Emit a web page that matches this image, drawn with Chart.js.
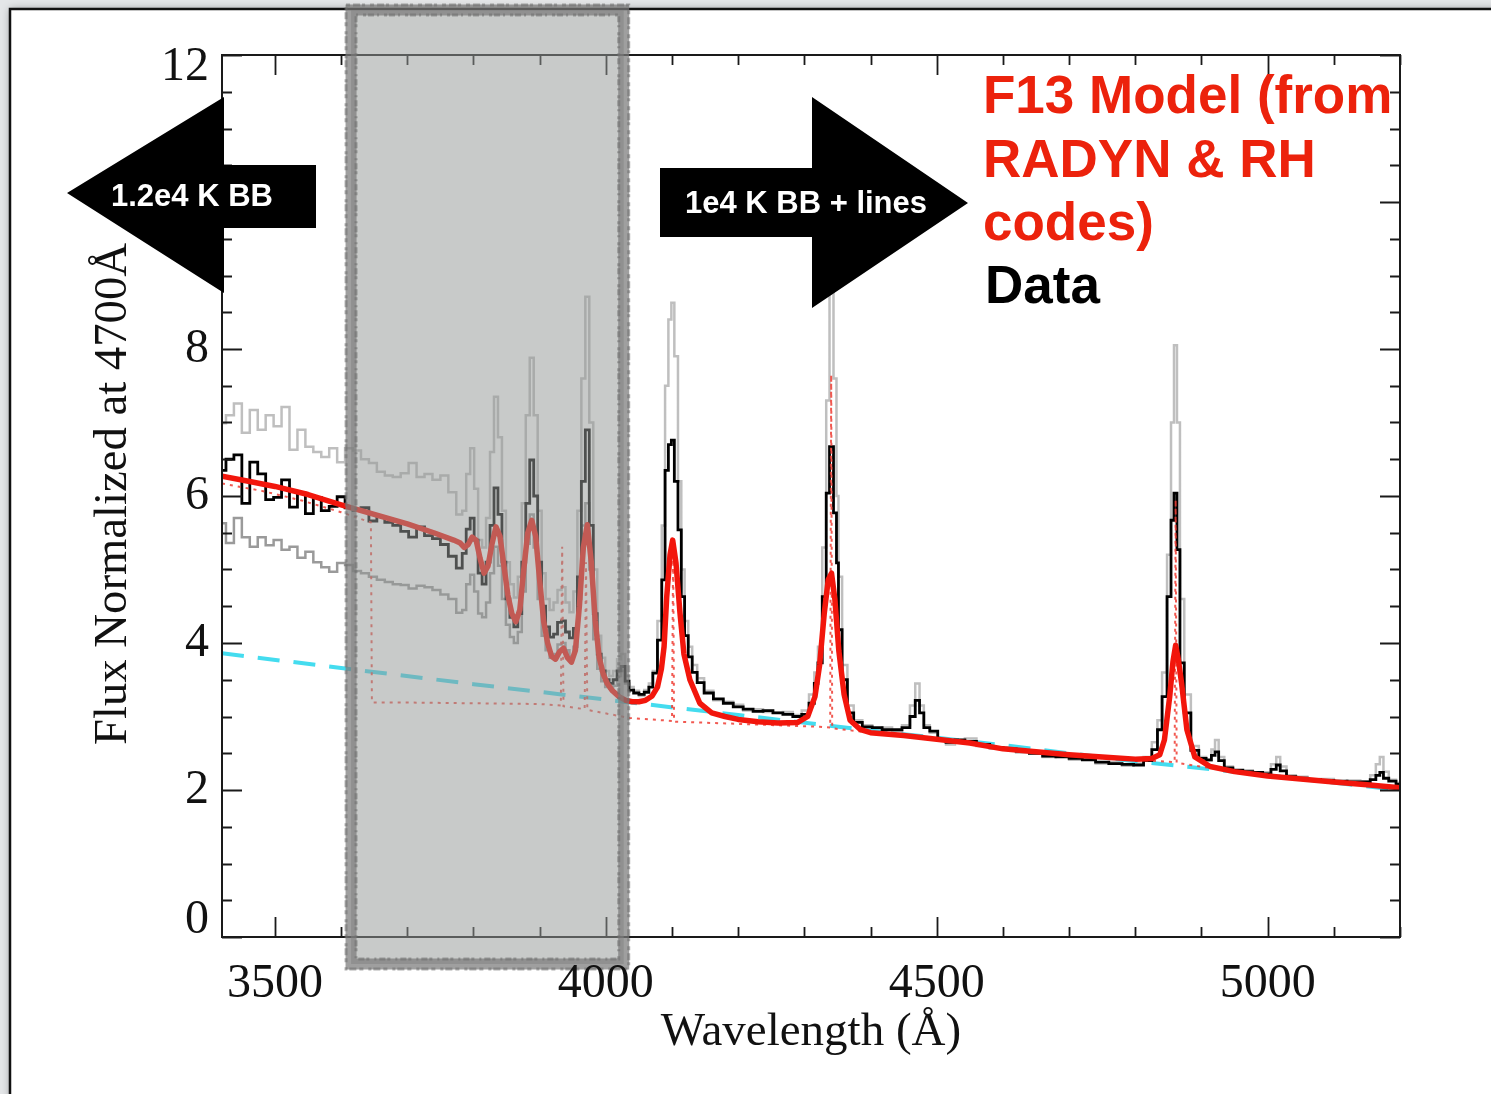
<!DOCTYPE html>
<html>
<head>
<meta charset="utf-8">
<title>F13 model vs flare spectrum</title>
<script src="https://cdn.jsdelivr.net/npm/chart.js@4.4.1/dist/chart.umd.min.js"></script>
<style>
  html, body { margin: 0; padding: 0; background: #e4e6e8; }
  #wrap { width: 1491px; height: 1094px; }
</style>
</head>
<body>
<div id="wrap"><canvas id="spectrumChart" width="1491" height="1094"></canvas></div>
<script>
// observed spectrum (black) and the brighter spectrum (light gray), same bins
const waveData = [
  3420, 3432, 3444, 3456, 3468, 3480, 3492, 3504, 3516, 3528, 3540, 3552, 3564, 3576, 3588, 3600,
  3612, 3624, 3636, 3648, 3660, 3672, 3684, 3696, 3708, 3720, 3732, 3744, 3756, 3768, 3780,
  3786, 3792, 3798, 3804, 3810, 3816, 3822, 3828, 3834, 3840, 3846, 3852, 3858, 3864, 3870, 3876,
  3882, 3888, 3894, 3900, 3906, 3912, 3918, 3924, 3930, 3936, 3942, 3948, 3954, 3960, 3966, 3972,
  3978, 3984, 3990, 3996, 4002, 4008, 4014, 4020, 4026, 4032, 4038, 4046, 4054, 4062, 4068, 4074,
  4082, 4087, 4092, 4097, 4101, 4106, 4112, 4116, 4122, 4127, 4134, 4142, 4155, 4170, 4185, 4200,
  4215, 4230, 4245, 4260, 4275, 4290, 4302, 4312, 4318, 4323, 4331, 4335, 4341, 4347, 4350, 4353,
  4361, 4369, 4380, 4395, 4410, 4425, 4440, 4455, 4464, 4471, 4477, 4484, 4495, 4508, 4520, 4535,
  4550, 4570, 4590, 4610, 4630, 4650, 4670, 4690, 4710, 4730, 4750, 4770, 4790, 4805, 4820, 4830,
  4837, 4844, 4852, 4856, 4861, 4865, 4870, 4878, 4890, 4902, 4912, 4918, 4923, 4929, 4940, 4955,
  4970, 4985, 5000, 5010, 5016, 5022, 5035, 5050, 5070, 5090, 5110, 5130, 5150, 5160, 5167, 5172,
  5178, 5188, 5200
];
const fluxData = [
  6.35, 6.50, 6.56, 5.90, 6.46, 6.30, 5.95, 5.98, 6.22, 5.85, 6.04, 5.76, 5.98, 5.80, 5.86, 5.99,
  5.84, 5.80, 5.84, 5.66, 5.72, 5.64, 5.60, 5.52, 5.44, 5.58, 5.46, 5.42, 5.34, 5.18, 5.02,
  5.22, 5.55, 5.70, 5.40, 4.95, 4.80, 5.10, 5.60, 6.11, 5.75, 5.10, 4.60, 4.35, 4.22, 4.40, 5.10,
  5.90, 6.49, 6.00, 5.10, 4.50, 4.22, 4.08, 4.12, 4.28, 4.30, 4.15, 4.07, 4.20, 4.90, 6.20, 6.90,
  5.60, 4.40, 3.85, 3.62, 3.50, 3.45, 3.50, 3.62, 3.68, 3.48, 3.36, 3.32, 3.30, 3.33, 3.40, 3.59,
  4.04, 4.86, 6.35, 6.70, 6.76, 6.20, 5.54, 4.63, 4.10, 3.81, 3.60, 3.46, 3.32, 3.24, 3.18, 3.13,
  3.10, 3.07, 3.08, 3.05, 3.03, 3.00, 3.03, 3.18, 3.45, 3.73, 4.63, 6.04, 6.67, 5.77, 5.09, 4.18,
  3.50, 3.05, 2.92, 2.86, 2.85, 2.82, 2.82, 2.85, 3.00, 3.22, 3.05, 2.85, 2.80, 2.68, 2.65, 2.68,
  2.66, 2.62, 2.58, 2.56, 2.53, 2.50, 2.46, 2.45, 2.43, 2.41, 2.38, 2.36, 2.35, 2.34, 2.40, 2.55,
  2.82, 3.27, 4.63, 5.67, 6.04, 5.27, 3.73, 3.05, 2.54, 2.43, 2.41, 2.47, 2.52, 2.40, 2.30, 2.27,
  2.25, 2.24, 2.22, 2.28, 2.34, 2.26, 2.18, 2.16, 2.14, 2.13, 2.12, 2.11, 2.11, 2.14, 2.20, 2.24,
  2.16, 2.12, 2.08
];
const fluxUpper = [
  6.99, 7.10, 7.26, 6.86, 7.17, 6.90, 7.10, 6.95, 7.21, 6.63, 6.90, 6.67, 6.60, 6.53, 6.65, 6.46,
  6.65, 6.62, 6.50, 6.45, 6.33, 6.28, 6.26, 6.31, 6.45, 6.26, 6.30, 6.22, 6.28, 6.05, 5.75,
  5.80, 6.30, 6.65, 6.10, 5.40, 5.30, 5.70, 6.60, 7.35, 6.80, 5.80, 5.10, 4.80, 4.62, 4.90, 5.90,
  7.10, 7.88, 7.10, 5.80, 4.95, 4.60, 4.45, 4.55, 4.72, 4.76, 4.55, 4.42, 4.70, 5.80, 7.60, 8.71,
  7.00, 5.00, 4.10, 3.80, 3.62, 3.55, 3.62, 3.78, 3.85, 3.55, 3.40, 3.35, 3.28, 3.36, 3.45, 3.62,
  4.30, 5.60, 7.50, 8.40, 8.63, 7.90, 6.20, 5.00, 4.30, 3.95, 3.70, 3.52, 3.35, 3.22, 3.20, 3.16,
  3.08, 3.10, 3.06, 3.05, 3.06, 3.02, 3.08, 3.30, 3.60, 3.95, 5.30, 7.30, 8.90, 7.60, 6.00, 4.90,
  3.70, 3.15, 2.95, 2.88, 2.83, 2.85, 2.80, 2.88, 3.15, 3.45, 3.15, 2.88, 2.78, 2.70, 2.62, 2.66,
  2.70, 2.60, 2.56, 2.58, 2.51, 2.52, 2.45, 2.47, 2.41, 2.43, 2.36, 2.38, 2.33, 2.36, 2.45, 2.65,
  2.95, 3.60, 5.20, 7.00, 8.05, 7.00, 4.60, 3.30, 2.60, 2.45, 2.40, 2.55, 2.68, 2.45, 2.32, 2.25,
  2.27, 2.22, 2.24, 2.35, 2.45, 2.32, 2.20, 2.18, 2.13, 2.15, 2.11, 2.13, 2.12, 2.20, 2.35, 2.45,
  2.25, 2.14, 2.10
];

// fainter spectrum (dark gray), blue part only
const waveLower = [
  3420, 3432, 3444, 3456, 3468, 3480, 3492, 3504, 3516, 3528, 3540, 3552, 3564, 3576, 3588, 3600,
  3612, 3624, 3636, 3648, 3660, 3672, 3684, 3696, 3708, 3720, 3732, 3744, 3756, 3768, 3780,
  3786, 3792, 3798, 3804, 3810, 3816, 3822, 3828, 3834, 3840, 3846, 3852, 3858, 3864, 3870, 3876,
  3882, 3888, 3894, 3900, 3906, 3912, 3918, 3924, 3930, 3936, 3942, 3948, 3954, 3960, 3966, 3972,
  3978, 3984, 3990, 3996, 4002, 4008, 4014, 4020, 4026, 4032, 4038
];
const fluxLower = [
  5.63, 5.36, 5.70, 5.44, 5.31, 5.44, 5.33, 5.40, 5.27, 5.31, 5.16, 5.24, 5.10, 5.03, 4.97, 5.09,
  5.06, 4.98, 4.95, 4.90, 4.86, 4.83, 4.80, 4.79, 4.74, 4.78, 4.76, 4.72, 4.66, 4.60, 4.41,
  4.45, 4.80, 4.93, 4.70, 4.40, 4.35, 4.55, 4.95, 5.31, 5.05, 4.60, 4.25, 4.08, 4.00, 4.15, 4.70,
  5.35, 5.75, 5.30, 4.60, 4.10, 3.90, 3.80, 3.85, 3.98, 4.00, 3.90, 3.82, 3.95, 4.60, 5.60, 5.90,
  5.00, 4.05, 3.65, 3.48, 3.40, 3.38, 3.42, 3.55, 3.62, 3.45, 3.34
];

// F13 model (thick red)
const waveModel = [
  3420, 3460, 3500, 3550, 3600, 3650, 3700, 3740, 3770, 3780, 3786, 3792, 3798, 3804, 3810, 3816,
  3822, 3828, 3834, 3840, 3846, 3852, 3858, 3864, 3870, 3876, 3882, 3888, 3894, 3900, 3906, 3912,
  3918, 3924, 3930, 3936, 3942, 3948, 3954, 3960, 3966, 3972, 3978, 3984, 3990, 3996, 4002, 4010,
  4020, 4030, 4040, 4050, 4060, 4070, 4078, 4084, 4088, 4092, 4097, 4101, 4106, 4112, 4118, 4127,
  4142, 4160, 4180, 4200, 4230, 4260, 4290, 4305, 4316, 4323, 4330, 4336, 4341, 4346, 4352, 4360,
  4369, 4385, 4400, 4450, 4500, 4550, 4600, 4650, 4700, 4750, 4800, 4825, 4837, 4844, 4852, 4857,
  4861, 4865, 4870, 4878, 4890, 4913, 4950, 5000, 5050, 5100, 5150, 5200
];
const fluxModel = [
  6.27, 6.20, 6.13, 6.02, 5.88, 5.75, 5.62, 5.50, 5.40, 5.36, 5.30, 5.34, 5.44, 5.40, 5.15, 4.95,
  5.05, 5.35, 5.58, 5.45, 5.05, 4.65, 4.40, 4.29, 4.45, 5.00, 5.50, 5.67, 5.45, 4.85, 4.30, 4.00,
  3.82, 3.78, 3.88, 3.93, 3.80, 3.74, 3.90, 4.50, 5.30, 5.61, 5.10, 4.30, 3.80, 3.58, 3.45, 3.35,
  3.27, 3.22, 3.20, 3.20, 3.22, 3.28, 3.40, 3.65, 3.95, 4.63, 5.20, 5.40, 5.09, 4.41, 3.85, 3.50,
  3.18, 3.05, 3.00, 2.96, 2.93, 2.91, 2.92, 3.00, 3.27, 3.70, 4.40, 4.86, 4.95, 4.60, 3.90, 3.30,
  2.95, 2.82, 2.78, 2.74, 2.69, 2.64, 2.56, 2.52, 2.48, 2.45, 2.42, 2.43, 2.48, 2.68, 3.27, 3.75,
  3.97, 3.78, 3.45, 2.82, 2.45, 2.32, 2.25, 2.19, 2.15, 2.11, 2.07, 2.03
];

// model component without Balmer continuum redward of 3646 (red dotted)
const waveDotted = [
  3420, 3480, 3540, 3600, 3645, 3646.5, 3700, 3800, 3900, 3932, 3934, 3936, 3968, 3970, 3972, 4036,
  4100, 4101.7, 4103, 4200, 4323, 4339, 4340.5, 4342, 4400, 4500, 4600, 4700, 4800, 4859.5, 4861,
  4862.5, 5000, 5100, 5200
];
const fluxDotted = [
  6.17, 6.07, 5.94, 5.78, 5.64, 3.19, 3.19, 3.18, 3.17, 3.15, 5.31, 3.14, 3.10, 5.10, 3.09, 2.98,
  2.94, 5.30, 2.93, 2.90, 2.86, 2.85, 7.65, 2.84, 2.78, 2.68, 2.57, 2.48, 2.41, 2.38, 5.95,
  2.37, 2.18, 2.10, 2.02
];

// 1e4 K blackbody (cyan dashed)
const waveBB = [3420, 3600, 3800, 4000, 4200, 4400, 4600, 4800, 5000, 5200];
const fluxBB = [3.86, 3.66, 3.44, 3.23, 3.02, 2.81, 2.61, 2.39, 2.20, 2.00];

const xTickLabels = [3500, 4000, 4500, 5000];
const yTickLabels = [0, 2, 4, 6, 8, 10, 12];
const shadedBand = [3615, 4027];

const serif = "'Liberation Serif', 'Times New Roman', Times, serif";
const sans = "'Liberation Sans', Arial, Helvetica, sans-serif";

function pairs(xs, ys) {
  return xs.map((w, i) => ({ x: w, y: ys[i] }));
}

const decorPlugin = {
  id: "decor",
  beforeDraw(chart) {
    const ctx = chart.ctx;
    ctx.save();
    ctx.fillStyle = "#e4e6e8";
    ctx.fillRect(0, 0, chart.width, chart.height);
    ctx.shadowColor = "rgba(0,0,0,0.35)";
    ctx.shadowBlur = 8;
    ctx.fillStyle = "#ffffff";
    ctx.fillRect(10, 9, chart.width, chart.height);
    ctx.shadowBlur = 0;
    ctx.strokeStyle = "#111";
    ctx.lineWidth = 2.5;
    ctx.beginPath();
    ctx.moveTo(10, chart.height);
    ctx.lineTo(10, 9);
    ctx.lineTo(chart.width, 9);
    ctx.stroke();
    ctx.restore();
  },
  afterDatasetsDraw(chart) {
    const ctx = chart.ctx;
    const a = chart.chartArea;
    const x = chart.scales.x, y = chart.scales.y;

    // frame and inward ticks on all four sides
    ctx.save();
    ctx.strokeStyle = "#1a1a1a";
    ctx.lineWidth = 2;
    ctx.strokeRect(a.left, a.top, a.right - a.left, a.bottom - a.top);
    ctx.lineWidth = 1.8;
    ctx.beginPath();
    for (let w = 3500; w <= x.max; w += 100) {
      const px = Math.round(x.getPixelForValue(w)) + 0.5;
      const len = w % 500 === 0 ? 20 : 10;
      ctx.moveTo(px, a.bottom); ctx.lineTo(px, a.bottom - len);
      ctx.moveTo(px, a.top); ctx.lineTo(px, a.top + len);
    }
    for (let v = y.min; v <= y.max; v += 0.5) {
      const py = Math.round(y.getPixelForValue(v)) + 0.5;
      const len = v % 2 === 0 ? 20 : 10;
      ctx.moveTo(a.left, py); ctx.lineTo(a.left + len, py);
      ctx.moveTo(a.right, py); ctx.lineTo(a.right - len, py);
    }
    ctx.stroke();

    // shaded wavelength band
    const x0 = x.getPixelForValue(shadedBand[0]);
    const x1 = x.getPixelForValue(shadedBand[1]);
    const top = a.top - 45, bottom = a.bottom + 27;
    ctx.fillStyle = "rgba(150,153,152,0.52)";
    ctx.fillRect(x0, top, x1 - x0, bottom - top);
    ctx.strokeStyle = "rgba(122,122,122,0.72)";
    ctx.lineWidth = 11;
    ctx.strokeRect(x0, top, x1 - x0, bottom - top);
    ctx.strokeStyle = "rgba(110,110,110,0.55)";
    ctx.lineWidth = 3;
    ctx.setLineDash([4, 3, 7, 2, 3, 5]);
    ctx.strokeRect(x0 - 5, top - 5, x1 - x0 + 10, bottom - top + 10);
    ctx.setLineDash([2, 5, 3, 2, 6, 3]);
    ctx.strokeRect(x0 + 5, top + 5, x1 - x0 - 10, bottom - top - 10);
    ctx.setLineDash([]);

    // tick labels
    ctx.fillStyle = "#111";
    ctx.font = "48px " + serif;
    ctx.textAlign = "center";
    ctx.textBaseline = "alphabetic";
    xTickLabels.forEach(w => {
      ctx.fillText(String(w), x.getPixelForValue(w), a.bottom + 60);
    });
    ctx.textAlign = "right";
    ctx.textBaseline = "middle";
    yTickLabels.forEach(v => {
      let shift = 0;
      if (v === y.max) shift = 12;
      if (v === y.min) shift = -17;
      ctx.fillText(String(v), a.left - 13, y.getPixelForValue(v) + shift);
    });

    // axis titles
    ctx.font = "47px " + serif;
    ctx.textAlign = "center";
    ctx.textBaseline = "alphabetic";
    ctx.fillText("Wavelength (Å)", (a.left + a.right) / 2, a.bottom + 108);
    ctx.save();
    ctx.translate(126, (a.top + a.bottom) / 2 - 2);
    ctx.rotate(-Math.PI / 2);
    ctx.fillText("Flux Normalized at 4700Å", 0, 0, 502);
    ctx.restore();

    // arrows
    ctx.fillStyle = "#000";
    ctx.beginPath();
    ctx.moveTo(67, 193);
    ctx.lineTo(224, 97);
    ctx.lineTo(224, 165);
    ctx.lineTo(316, 165);
    ctx.lineTo(316, 228);
    ctx.lineTo(224, 228);
    ctx.lineTo(224, 293);
    ctx.closePath();
    ctx.fill();
    ctx.beginPath();
    ctx.moveTo(660, 168);
    ctx.lineTo(812, 168);
    ctx.lineTo(812, 97);
    ctx.lineTo(968, 203);
    ctx.lineTo(812, 308);
    ctx.lineTo(812, 237);
    ctx.lineTo(660, 237);
    ctx.closePath();
    ctx.fill();
    ctx.fillStyle = "#fff";
    ctx.font = "bold 31px " + sans;
    ctx.textAlign = "center";
    ctx.textBaseline = "middle";
    ctx.fillText("1.2e4 K BB", 192, 197, 166);
    ctx.fillText("1e4 K BB + lines", 806, 204, 248);

    // legend text
    ctx.textAlign = "left";
    ctx.textBaseline = "alphabetic";
    ctx.font = "bold 53px " + sans;
    ctx.fillStyle = "#ec220c";
    ctx.fillText("F13 Model (from", 983, 113);
    ctx.fillText("RADYN & RH", 983, 177);
    ctx.fillText("codes)", 983, 240);
    ctx.fillStyle = "#000";
    ctx.fillText("Data", 985, 303);
    ctx.restore();
  }
};

document.addEventListener("DOMContentLoaded", function() {
  const ctx = document.getElementById("spectrumChart").getContext("2d");
  new Chart(ctx, {
    type: "line",
    data: {
      datasets: [
        {
          label: "F13 model",
          data: pairs(waveModel, fluxModel),
          borderColor: "#f2160c",
          borderWidth: 5.5,
          borderJoinStyle: "round",
          pointRadius: 0
        },
        {
          label: "F13 model, no Balmer continuum",
          data: pairs(waveDotted, fluxDotted),
          borderColor: "rgba(238,60,50,0.85)",
          borderWidth: 2,
          borderDash: [3, 5],
          pointRadius: 0
        },
        {
          label: "Data",
          data: pairs(waveData, fluxData),
          borderColor: "#000000",
          borderWidth: 2.8,
          stepped: "middle",
          pointRadius: 0
        },
        {
          label: "1e4 K BB",
          data: pairs(waveBB, fluxBB),
          borderColor: "#44dcef",
          borderWidth: 4,
          borderDash: [22, 14],
          pointRadius: 0
        },
        {
          label: "Data (faint)",
          data: pairs(waveLower, fluxLower),
          borderColor: "#9a9a9a",
          borderWidth: 2.5,
          stepped: "middle",
          pointRadius: 0
        },
        {
          label: "Data (bright)",
          data: pairs(waveData, fluxUpper),
          borderColor: "#bfbfbf",
          borderWidth: 2.5,
          stepped: "middle",
          pointRadius: 0
        }
      ]
    },
    options: {
      responsive: false,
      animation: false,
      events: [],
      layout: {
        padding: { left: 222, top: 55, right: 91, bottom: 157 }
      },
      plugins: {
        legend: { display: false },
        tooltip: { enabled: false }
      },
      scales: {
        x: { type: "linear", min: 3420, max: 5200, display: false },
        y: { type: "linear", min: 0, max: 12, display: false }
      }
    },
    plugins: [decorPlugin]
  });
});
</script>
</body>
</html>
